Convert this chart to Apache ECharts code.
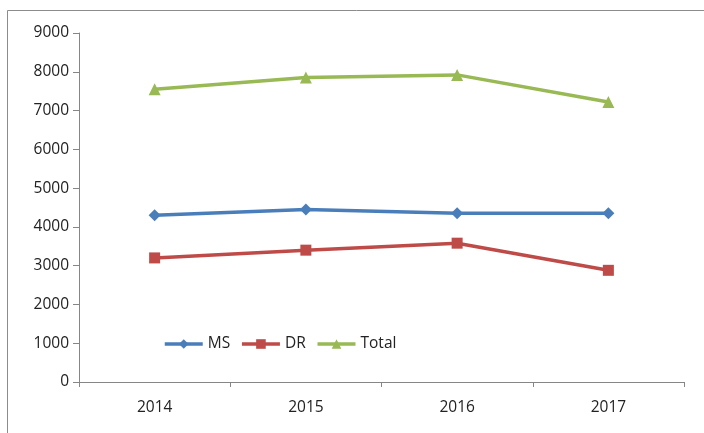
<!DOCTYPE html>
<html>
<head>
<meta charset="utf-8">
<script src="https://cdn.jsdelivr.net/npm/echarts@6/dist/echarts.min.js"></script>
<style>
html,body{margin:0;padding:0;background:#fff;}
#c{width:704px;height:433px;}
</style>
</head>
<body>
<div id="c"></div>
<script>
var categories = ['2014', '2015', '2016', '2017'];
var msValues = [4300, 4450, 4350, 4350];
var drValues = [3200, 3400, 3580, 2880];
var totalValues = [7550, 7850, 7920, 7220];
var yTicks = [0, 1000, 2000, 3000, 4000, 5000, 6000, 7000, 8000, 9000];

var chart = echarts.init(document.getElementById('c'));
var font = 'Open Sans';
chart.setOption({
  animation: false,
  backgroundColor: '#fff',
  graphic: [{
    type: 'rect',
    shape: {x: 7.5, y: 10.5, width: 720, height: 440},
    style: {fill: 'none', stroke: '#8c8c8c', lineWidth: 1},
    silent: true
  }],
  grid: {left: 79, right: 20, top: 33, bottom: 51},
  legend: {
    left: 158, top: 331,
    itemWidth: 38, itemHeight: 12, itemGap: 10,
    lineStyle: {width: 3.5},
    textStyle: {fontFamily: font, fontSize: 15.5, color: '#222'},
    data: ['MS', 'DR', 'Total']
  },
  xAxis: {
    type: 'category',
    data: categories,
    boundaryGap: true,
    axisLine: {lineStyle: {color: '#868686', width: 1}},
    axisTick: {show: true, length: 5, lineStyle: {color: '#868686'}},
    axisLabel: {fontFamily: font, fontSize: 15.5, color: '#222', margin: 18}
  },
  yAxis: {
    type: 'value',
    min: yTicks[0], max: yTicks[yTicks.length - 1], interval: 1000,
    axisLine: {show: true, lineStyle: {color: '#868686', width: 1}},
    axisTick: {show: true, length: 6, lineStyle: {color: '#868686'}},
    splitLine: {show: false},
    axisLabel: {fontFamily: font, fontSize: 15.5, color: '#222', margin: 10,
      formatter: function (v) { return String(v); }}
  },
  series: [
    {name: 'MS', type: 'line', data: msValues, symbol: 'diamond', symbolSize: 12,
     lineStyle: {color: '#4A7EBB', width: 3.5}, itemStyle: {color: '#4A7EBB'}},
    {name: 'DR', type: 'line', data: drValues, symbol: 'rect', symbolSize: 11,
     lineStyle: {color: '#BE4B48', width: 3.5}, itemStyle: {color: '#BE4B48'}},
    {name: 'Total', type: 'line', data: totalValues, symbol: 'triangle', symbolSize: 12,
     lineStyle: {color: '#98B954', width: 3.5}, itemStyle: {color: '#98B954'}}
  ]
});
</script>
</body>
</html>
